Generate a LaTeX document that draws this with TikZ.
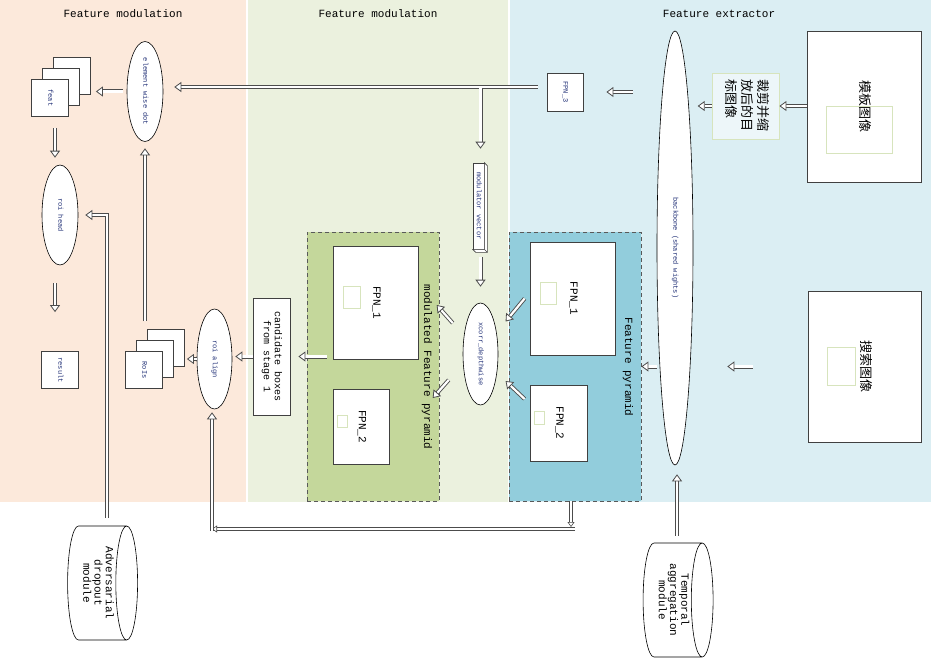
\documentclass[tikz,border=0pt]{standalone}
\usepackage{fontspec}
\setmainfont{Liberation Serif}
\setmonofont{Liberation Mono}
\newfontfamily\cjk{Noto Sans CJK SC}
\usetikzlibrary{arrows.meta,shapes.geometric,positioning}
\definecolor{peach}{RGB}{252,233,219}
\definecolor{sage}{RGB}{235,241,222}
\definecolor{skyband}{RGB}{219,238,243}
\definecolor{olive}{RGB}{196,215,155}
\definecolor{pyrblue}{RGB}{146,205,220}
\definecolor{paleline}{RGB}{215,228,189}
\definecolor{inkblue}{RGB}{35,50,120}
\newcommand{\vlab}[2][c]{\rotatebox{-90}{\begin{tabular}{@{}#1@{}}#2\end{tabular}}}

\begin{document}
\begin{tikzpicture}[x=1pt,y=-1pt,
    every node/.style={inner sep=0pt},
    box/.style={draw=black!75,fill=white,line width=0.8pt},
    oval/.style={ellipse,draw,fill=white,line width=0.6pt,minimum width=36,minimum height=100},
    chip/.style={draw=paleline,line width=0.8pt},
    group/.style={draw=black!65,dash pattern=on 4pt off 3pt,line width=0.8pt},
    store/.style={cylinder,draw,fill=white,line width=0.6pt,aspect=0.3,minimum width=114,minimum height=70},
    tiny/.style={font=\ttfamily\fontsize{7}{8}\selectfont,text=inkblue},
    mono/.style={font=\ttfamily\fontsize{11}{11}\selectfont},
    cjkfont/.style={font=\cjk\fontsize{13}{16}\selectfont},
    hollow/.style={draw=black!70,line width=0.9pt,double=white,double distance=2.2pt,
      -{Triangle[open,fill=white,length=7pt,width=10pt,line width=0.8pt]}},
    thinhollow/.style={hollow,line width=0.8pt,double distance=1.6pt,
      -{Triangle[open,fill=white,length=5pt,width=7pt,line width=0.6pt]}}]
  \useasboundingbox (0,0) rectangle (931,658);
  \fill[peach] (0,0) rectangle (246,502);
  \fill[sage] (248,0) rectangle (508,502);
  \fill[skyband] (510,0) rectangle (931,502);

  \node[mono] (tleft) at (123,14) {Feature modulation};
  \node[mono] (tmid) at (378,14) {Feature modulation};
  \node[mono] (tright) at (719,14) {Feature extractor};

  % pyramids
  \node[group,fill=olive,minimum width=132,minimum height=269] (mfp) at (373,366.5) {};
  \node[group,fill=pyrblue,minimum width=132,minimum height=269] (fp) at (575,366.5) {};
  \node[mono,rotate=-90] (mfplab) at (427,367) {modulated Feature pyramid};
  \node[mono,rotate=-90] (fplab) at (628,367) {Feature pyramid};
  \node[box,mono,minimum width=85,minimum height=113] (mfp1) at (375.5,302.5) {\vlab{FPN\_1}};
  \node[box,mono,minimum width=56,minimum height=75] (mfp2) at (361,426.5) {\vlab{FPN\_2}};
  \node[box,mono,minimum width=85,minimum height=113] (fp1) at (572.5,298.5) {\vlab{FPN\_1}};
  \node[box,mono,minimum width=57,minimum height=76] (fp2) at (558.5,423) {\vlab{FPN\_2}};
  \node[chip,minimum width=17,minimum height=22] (mfp1in) at (351.5,297) {};
  \node[chip,minimum width=10,minimum height=12] (mfp2in) at (342,421) {};
  \node[chip,minimum width=16,minimum height=22] (fp1in) at (548,293) {};
  \node[chip,minimum width=10,minimum height=13] (fp2in) at (539,417.5) {};

  % ovals
  \node[oval,minimum height=434,tiny] (bb) at (675,248) {\vlab{backbone (shared wights)}};
  \node[oval,minimum width=35,minimum height=102,tiny] (xcorr) at (480.5,354) {\vlab{xcorr\_depthwise}};
  \node[oval,tiny] (ewdot) at (145,91.5) {\vlab{element wise dot}};
  \node[oval,tiny] (rhead) at (60,215) {\vlab{roi head}};
  \node[oval,minimum width=35,tiny] (ralign) at (214.5,359) {\vlab{roi align}};

  % stacks
  \foreach \k/\d in {3/22,2/11}
    \node[box,minimum size=37] (feat\k) at (50+\d,98-\d) {};
  \node[box,tiny,minimum size=37] (feat1) at (50,98) {\vlab{feat}};
  \foreach \k/\d in {3/22,2/11}
    \node[box,minimum size=37] (rois\k) at (144+\d,370-\d) {};
  \node[box,tiny,minimum size=37] (rois1) at (144,370) {\vlab{RoIs}};
  \node[box,tiny,minimum size=37] (result) at (60,370) {\vlab{result}};

  \node[box,tiny,minimum width=36,minimum height=38] (fpn3) at (565,92) {\vlab{FPN\_3}};
  \node[box,line width=0.6pt,tiny,minimum width=11,minimum height=86] (modvec) at (478.5,206) {\vlab{modulator vector}};
  \draw[draw=black!75,fill=white,line width=0.6pt] (modvec.north east) -- ++(3,3)
    -- ([shift={(3,3)}]modvec.south east) -- ([shift={(3,3)}]modvec.south west)
    -- (modvec.south west) -- (modvec.south east) -- cycle;
  \draw[draw=black!75,line width=0.6pt] (modvec.south east) -- ++(3,3);
  \node[box,font=\ttfamily\fontsize{10}{11}\selectfont,minimum width=37,minimum height=117] (cand) at (271.5,356.5) {\vlab{candidate boxes\\from stage 1}};

  % inputs
  \node[box,cjkfont,minimum width=114,minimum height=151] (tmpl) at (864,106.5) {\vlab{模板图像}};
  \node[chip,minimum width=66,minimum height=47] (tmplin) at (859,129.5) {};
  \node[box,cjkfont,minimum width=113,minimum height=151] (search) at (864.5,366.5) {\vlab{搜索图像}};
  \node[chip,minimum width=28,minimum height=38] (searchin) at (841,366) {};
  \node[draw=paleline,line width=0.8pt,fill=skyband!50!white,cjkfont,minimum width=67,minimum height=66] (crop) at (745.5,106) {\vlab[l]{裁剪并缩\\放后的目\\标图像}};

  \node[store,mono] (adv) at (97,583) {\vlab{Adversarial\\dropout\\module}};
  \node[store,mono] (temp) at (672.5,600) {\vlab{Temporal\\aggregation\\module}};

  % arrows
  \draw[hollow] (tmpl.west |- crop.east) -- (crop.east);
  \draw[hollow,shorten >=4.4] (crop.west) -- (crop.west -| bb.east);
  \draw[hollow,shorten <=24,shorten >=23] (bb.west |- fpn3.east) -- (fpn3.east);
  \draw[hollow,shorten <=55,shorten >=34] (search.west) -- (search.west -| bb.east);
  \draw[hollow] (bb.west |- fp.east) -- (fp.east);
  \coordinate (temptop) at ([xshift=4.5]temp.north);
  \draw[hollow,shorten <=7,shorten >=9] (temptop) -- (temptop |- bb.south);

  \draw[hollow] ([xshift=-5]fp1.west) -- ([shift={(-24,23)}]fp1.west);
  \draw[hollow] ([shift={(-5,-24)}]fp2.west) -- ([shift={(-24,-42)}]fp2.west);
  \draw[hollow] ([shift={(-10,-31)}]xcorr.west) -- ([shift={(-26,-49)}]xcorr.west);
  \draw[hollow] ([shift={(-14,26)}]xcorr.west) -- ([shift={(-30,44)}]xcorr.west);
  \draw[hollow,shorten <=8,shorten >=16] (xcorr.north |- modvec.south) -- (xcorr.north);

  \coordinate (fpn3tap) at ([shift={(-9,-5)}]fpn3.west);
  \coordinate (vecsplit) at (fpn3tap -| xcorr.north);
  \draw[hollow,shorten >=11] (fpn3tap) -- (fpn3tap -| ewdot.east);
  \draw[hollow,shorten <=1,shorten >=14] (vecsplit) -- (vecsplit |- modvec.north);

  \coordinate (featfoot) at ([xshift=5]feat1.south);
  \coordinate (headfoot) at ([xshift=-5]rhead.south);
  \coordinate (advtop) at ([xshift=10]adv.north);
  \draw[hollow,shorten <=4,shorten >=5] (ewdot.west) -- (ewdot.west -| feat3.east);
  \draw[hollow,shorten <=11,shorten >=7] (featfoot) -- (featfoot |- rhead.north);
  \draw[hollow,shorten <=18,shorten >=39] (headfoot) -- (headfoot |- result.north);
  \draw[hollow,shorten <=8,shorten >=7] (advtop) |- (rhead.east);
  \draw[hollow,shorten <=8,shorten >=6.5] (ewdot.south |- rois3.north) -- (ewdot.south);
  \draw[hollow,shorten >=2] (ralign.west) -- (ralign.west -| rois3.east);
  \draw[hollow,shorten >=3] (cand.west) -- (cand.west -| ralign.east);
  \draw[hollow,shorten <=6,shorten >=8] (mfp1.west |- cand.east) -- (cand.east);

  \coordinate (fpfoot) at ([xshift=-4]fp.south);
  \coordinate (loopR) at (575,529);
  \coordinate (loopL) at (212,529);
  \coordinate (loopUp) at ([yshift=-2]loopL);
  \draw[thinhollow,shorten >=2] (fpfoot) -- (fpfoot |- loopR);
  \draw[thinhollow] (loopR) -- (loopL);
  \draw[hollow,shorten >=3] (loopUp) -- (loopUp |- ralign.south);
\end{tikzpicture}
\end{document}
